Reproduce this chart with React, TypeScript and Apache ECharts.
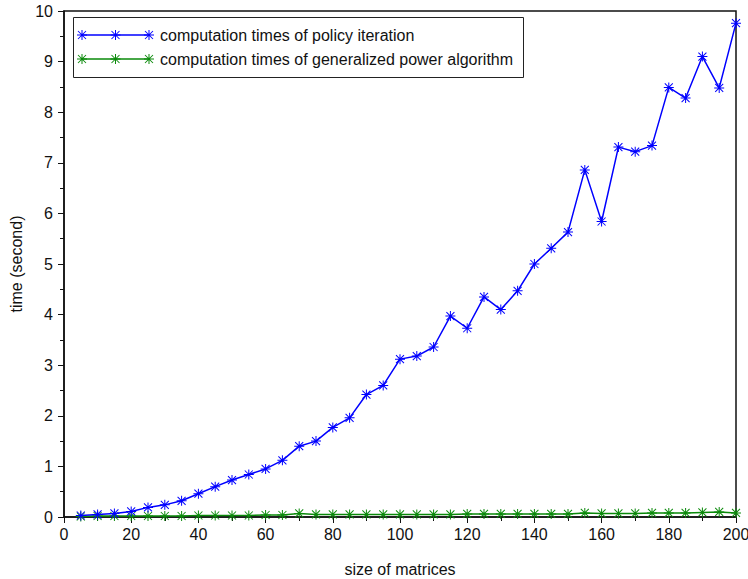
import React, { useEffect, useRef } from "react";
import * as echarts from "echarts";

const sizes = [5,10,15,20,25,30,35,40,45,50,55,60,65,70,75,80,85,90,95,100,105,110,115,120,125,130,135,140,145,150,155,160,165,170,175,180,185,190,195,200];
const policyIteration = [0.03,0.05,0.07,0.11,0.19,0.24,0.32,0.46,0.60,0.73,0.84,0.95,1.12,1.40,1.50,1.77,1.96,2.42,2.60,3.12,3.18,3.36,3.97,3.73,4.35,4.10,4.47,5.00,5.31,5.63,6.86,5.84,7.31,7.22,7.34,8.49,8.28,9.10,8.48,9.76];
const generalizedPower = [0.01,0.02,0.02,0.02,0.02,0.02,0.02,0.03,0.03,0.03,0.03,0.04,0.04,0.07,0.05,0.05,0.05,0.05,0.05,0.05,0.05,0.05,0.05,0.06,0.06,0.06,0.06,0.06,0.06,0.06,0.08,0.07,0.07,0.07,0.08,0.08,0.08,0.09,0.10,0.08];
const seriesNames = ["computation times of policy iteration", "computation times of generalized power algorithm"];
const seriesColors = ["#0000ff", "#0a8a0a"];

const ASTER_D = "M9,0L11,0L11,20L9,20Z M0,9L20,9L20,11L0,11Z M2.7,1.3L18.7,17.3L17.3,18.7L1.3,2.7Z M17.3,1.3L18.7,2.7L2.7,18.7L1.3,17.3Z";

let registered = false;
function ensureShape() {
  if (registered) return;
  echarts.graphic.registerShape("asterisk", echarts.graphic.extendPath(ASTER_D, {}) as any);
  registered = true;
}

const FONT = "'Liberation Sans', Arial, sans-serif";
const FS = 16;

export default function App() {
  const ref = useRef<HTMLDivElement>(null);
  useEffect(() => {
    if (!ref.current) return;
    document.body.style.margin = "0";
    ensureShape();
    const chart = echarts.init(ref.current, undefined, { renderer: "svg" });
    const legendItems: any[] = [
      {
        type: "rect",
        shape: { x: 73.5, y: 17.5, width: 450, height: 60 },
        style: { fill: "#fff", stroke: "#222", lineWidth: 1 },
        z: 100,
      },
    ];
    const rows = [35, 59];
    rows.forEach((y, i) => {
      legendItems.push({
        type: "line",
        shape: { x1: 81, y1: y, x2: 149, y2: y },
        style: { stroke: seriesColors[i], lineWidth: 1.5 },
        z: 101,
      });
      [82, 115.5, 149].forEach((cx) => {
        legendItems.push({
          type: "asterisk",
          x: cx - 5,
          y: y - 5,
          scaleX: 0.5,
          scaleY: 0.5,
          style: { fill: seriesColors[i] },
          z: 102,
        });
      });
      legendItems.push({
        type: "text",
        x: 160,
        y: y,
        style: {
          text: seriesNames[i],
          fill: "#111",
          font: `${FS}px ${FONT}`,
          verticalAlign: "middle",
          textAlign: "left",
        },
        z: 102,
      });
    });

    chart.setOption({
      animation: false,
      backgroundColor: "#fff",
      grid: {
        left: 64,
        right: 12,
        top: 11,
        bottom: 62,
        show: true,
        containLabel: false,
        outerBoundsMode: "none",
        borderColor: "#111",
        borderWidth: 1.5,
      },
      xAxis: {
        type: "value",
        min: 0,
        max: 200,
        interval: 20,
        name: "size of matrices",
        nameLocation: "middle",
        nameGap: 44,
        nameTextStyle: { color: "#111", fontSize: FS, fontFamily: FONT },
        axisLine: { show: true, lineStyle: { color: "#111", width: 1.5 } },
        axisTick: { show: true, length: 6, lineStyle: { color: "#111", width: 1 } },
        minorTick: { show: true, splitNumber: 2, length: 4, lineStyle: { color: "#111", width: 1 } },
        axisLabel: { color: "#111", fontSize: FS, fontFamily: FONT, margin: 9 },
        splitLine: { show: false },
      },
      yAxis: {
        type: "value",
        min: 0,
        max: 10,
        interval: 1,
        name: "time (second)",
        nameLocation: "middle",
        nameGap: 39,
        nameRotate: 90,
        nameTextStyle: { color: "#111", fontSize: FS, fontFamily: FONT },
        axisLine: { show: true, lineStyle: { color: "#111", width: 1.5 } },
        axisTick: { show: true, length: 6, lineStyle: { color: "#111", width: 1 } },
        minorTick: { show: true, splitNumber: 2, length: 4, lineStyle: { color: "#111", width: 1 } },
        axisLabel: { color: "#111", fontSize: FS, fontFamily: FONT, margin: 11 },
        splitLine: { show: false },
      },
      series: [policyIteration, generalizedPower].map((vals, i) => ({
        type: "line",
        name: seriesNames[i],
        data: sizes.map((s, j) => [s, vals[j]]),
        symbol: "path://" + ASTER_D,
        symbolSize: 10,
        showSymbol: true,
        showAllSymbol: true,
        lineStyle: { color: seriesColors[i], width: 1.5 },
        itemStyle: { color: seriesColors[i], borderWidth: 0 },
        z: i === 0 ? 3 : 2,
      })),
      graphic: legendItems,
    });
    return () => chart.dispose();
  }, []);
  return <div ref={ref} style={{ width: 748, height: 579, overflow: "hidden" }} />;
}
